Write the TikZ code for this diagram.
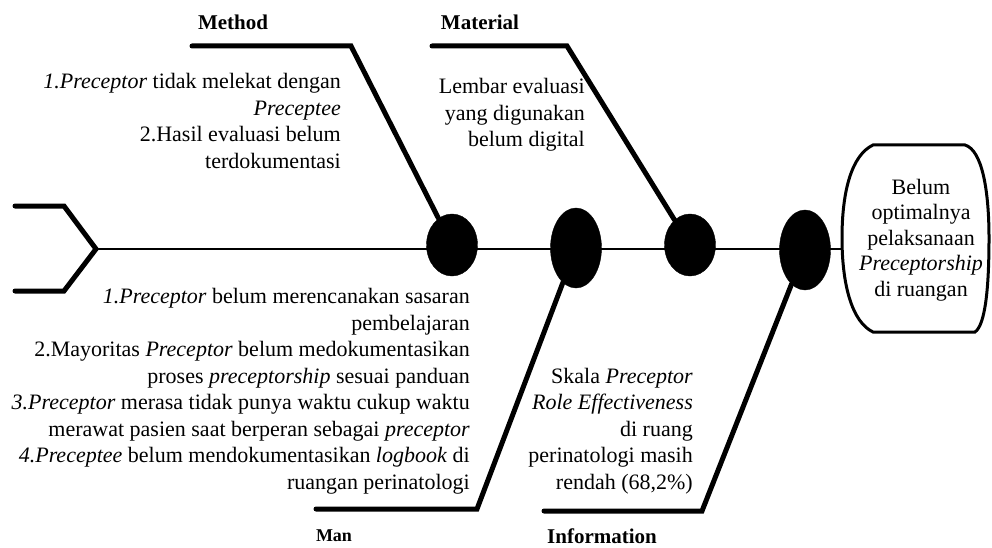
\documentclass[tikz,border=0pt]{standalone}
\usepackage{fontspec}
\setmainfont{Liberation Serif}
\usetikzlibrary{shapes.geometric}
\begin{document}
\begin{tikzpicture}[x=1pt,y=-1pt,
  bone/.style={line width=5pt,line join=miter,line cap=round},
  spineline/.style={line width=2.5pt},
  dot/.style={ellipse,fill=black,draw=black,inner sep=0pt,minimum width=51pt},
  small/.style={dot,minimum height=62pt},
  tall/.style={dot,minimum height=80pt},
  body/.style={inner sep=0pt,align=right,font=\fontsize{22}{26.5}\selectfont},
  cat/.style={inner sep=0pt,font=\fontsize{21}{24}\selectfont\bfseries}]
\useasboundingbox (0,0) rectangle (992,548);
% ellipses
\node[small] (E1) at (452,245) {};
\node[tall]  (E2) at (576,248) {};
\node[small] (E3) at (690,245) {};
\node[tall]  (E4) at (805,250) {};
% spine and tail
\coordinate (tip) at (96,249);
\coordinate (boxW) at (842,249);
\coordinate (t1) at (15,206);
\coordinate (t2) at (64,206);
\coordinate (t3) at (64,291);
\coordinate (t4) at (15,291);
\draw[spineline] (tip) -- (boxW);
\draw[bone] (t1) -- (t2) -- (tip) -- (t3) -- (t4);
% goal box
\draw[line width=3pt] (873,145) -- (965,145)
  .. controls (982,150) and (989,190) .. (989,238)
  .. controls (989,290) and (985,325) .. (975,332) -- (873,332)
  .. controls (852,322) and (842,285) .. (842,238)
  .. controls (842,190) and (852,155) .. (873,145) -- cycle;
\node[inner sep=0pt,align=center,font=\fontsize{22}{25.5}\selectfont] (goal) at (921,240)
  {Belum\\optimalnya\\pelaksanaan\\\textit{Preceptorship}\\di ruangan};
% Method
\coordinate (m1) at (192,46);
\coordinate (m2) at (351,46);
\draw[bone] (m1) -- (m2) -- (E1);
\node[cat] (lm) at (233,22) {Method};
\node[body,anchor=east] (tm) at (341,121)
  {\textit{1.Preceptor} tidak melekat dengan\\\textit{Preceptee}\\2.Hasil evaluasi belum\\terdokumentasi};
% Material
\coordinate (a1) at (432,46);
\coordinate (a2) at (567,46);
\draw[bone] (a1) -- (a2) -- (E3);
\node[cat] (la) at (480,22) {Material};
\node[body,anchor=east] (ta) at (585,115)
  {Lembar evaluasi\\yang digunakan\\belum digital};
% Man
\coordinate (n1) at (316,509);
\coordinate (n2) at (477,509);
\draw[bone] (n1) -- (n2) -- (E2);
\node[cat,font=\fontsize{18}{20}\selectfont\bfseries] (ln) at (334,536) {Man};
\node[body,anchor=east] (tn) at (470,391)
  {\textit{1.Preceptor} belum merencanakan sasaran\\pembelajaran\\2.Mayoritas \textit{Preceptor} belum medokumentasikan\\proses \textit{preceptorship} sesuai panduan\\\textit{3.Preceptor} merasa tidak punya waktu cukup waktu\\merawat pasien saat berperan sebagai \textit{preceptor}\\\textit{4.Preceptee} belum mendokumentasikan \textit{logbook} di\\ruangan perinatologi};
% Information
\coordinate (i1) at (544,511);
\coordinate (i2) at (702,511);
\draw[bone] (i1) -- (i2) -- (E4);
\node[cat] (li) at (602,536) {Information};
\node[body,anchor=east] (ti) at (693,431)
  {Skala \textit{Preceptor}\\\textit{Role Effectiveness}\\di ruang\\perinatologi masih\\rendah (68,2\%)};
\end{tikzpicture}
\end{document}
